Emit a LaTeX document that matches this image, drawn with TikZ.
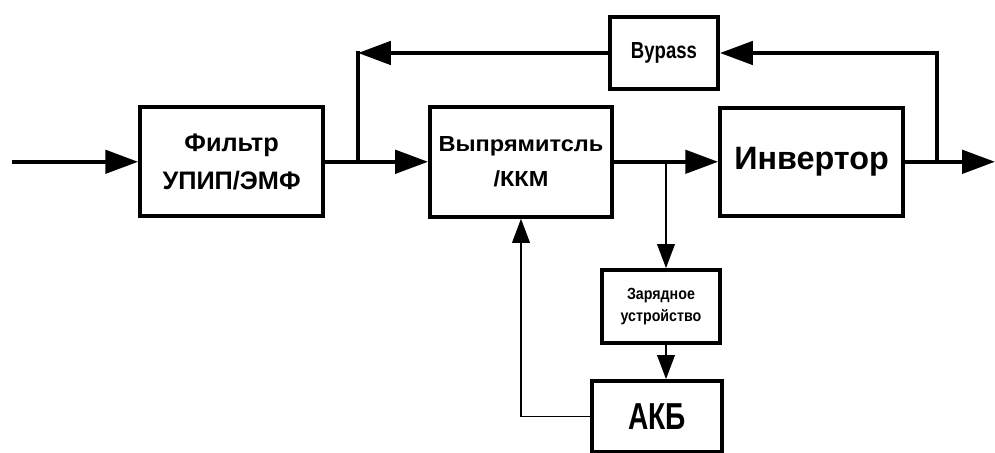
\documentclass[tikz,border=0pt]{standalone}
\usepackage{fontspec}
\setmainfont{Liberation Sans}
\usepackage{graphicx}
\usetikzlibrary{arrows.meta, positioning, calc}

\begin{document}
\begin{tikzpicture}[
  blk/.style={draw, line width=2.8pt, align=center, font=\bfseries, inner sep=1pt},
  arr/.style={-{Triangle[length=8.2mm, width=5.8mm]}, line width=2.8pt},
  tarr/.style={-{Triangle[length=6mm, width=4.4mm]}, line width=1.2pt},
  ln/.style={line width=2.8pt, line cap=rect},
]
\useasboundingbox (0,0) rectangle (24.875,11.325);

% main blocks
\node[blk, minimum width=4.575cm, minimum height=2.725cm,
      font=\bfseries\fontsize{18}{27}\selectfont] (filt) at (5.79,7.28) {Фильтр\\УПИП/ЭМФ};
\node[blk, minimum width=4.55cm, minimum height=2.75cm,
      font=\bfseries\fontsize{15.5}{25}\selectfont] (rect) at (13.025,7.28)
      {\scalebox{1.08}[1]{Выпрямитсль}\\\scalebox{1.08}[1]{/ККМ}};
\node[blk, minimum width=4.575cm, minimum height=2.7cm,
      font=\bfseries\fontsize{23}{28}\selectfont] (inv) at (20.29,7.28) {Инвертор};
\node[blk, minimum width=2.7cm, minimum height=1.8cm,
      font=\bfseries\fontsize{16.5}{20}\selectfont] (byp) at (16.6,10.0)
      {\scalebox{0.8}[1]{Bypass}};
\node[blk, minimum width=2.95cm, minimum height=1.825cm,
      font=\bfseries\fontsize{11.5}{15.6}\selectfont] (chg) at (16.525,3.66)
      {\scalebox{0.88}[1]{Зарядное}\\\scalebox{0.88}[1]{устройство}};
\node[blk, minimum width=3.25cm, minimum height=1.775cm,
      font=\bfseries\fontsize{26.7}{30}\selectfont] (akb) at (16.425,0.91)
      {\scalebox{0.75}[1]{АКБ}};

% branch points
\coordinate (in) at (0.3,7.28);
\coordinate (out) at (24.875,7.28);
\coordinate (j1) at (8.95,7.28);
\coordinate (j1up) at (8.95,10.0);
\coordinate (j2) at (16.65,7.28);
\coordinate (j3) at (23.425,7.28);

% power path
\draw[arr] (in) -- (filt.west);
\draw[arr] (filt.east) -- (rect.west);
\draw[arr] (rect.east) -- (inv.west);
\draw[arr] (inv.east) -- (out);

% bypass loop
\draw[arr] (j3) |- (byp.east);
\draw[arr] (byp.west) -- (j1up);
\draw[ln] (j1up) -- (j1);

% charger and battery
\draw[tarr] (j2) -- (j2 |- chg.north);
\draw[tarr] (j2 |- chg.south) -- (j2 |- akb.north);
\draw[tarr] (akb.west) -| (rect.south);
\end{tikzpicture}
\end{document}
